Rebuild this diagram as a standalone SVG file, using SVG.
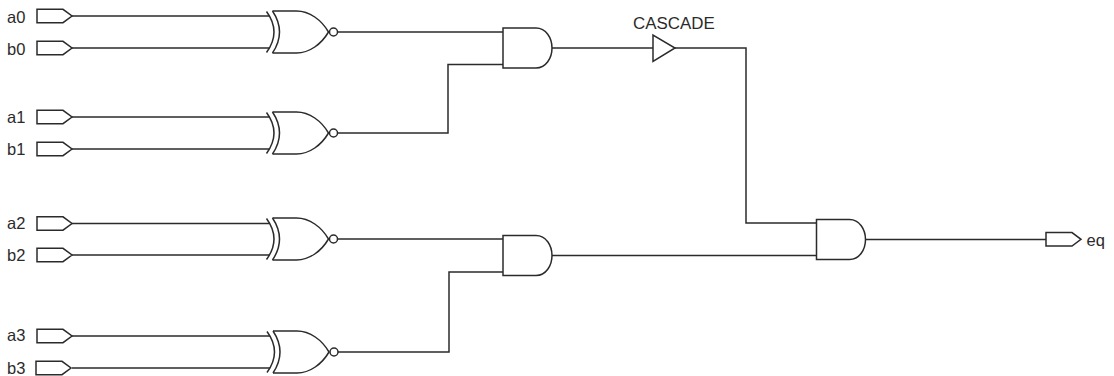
<svg xmlns="http://www.w3.org/2000/svg" xmlns:xlink="http://www.w3.org/1999/xlink" width="1114" height="376" viewBox="0 0 1114 376">
<style>
.s{fill:none;stroke:#2b2b2b;stroke-width:1.5}
.w{fill:none;stroke:#2b2b2b;stroke-width:1.5}
text{font-family:"Liberation Sans",Arial,sans-serif;font-size:16.500px;fill:#2b2b2b}
</style>
<defs>
<path id="port" class="s" d="M0,-6.700H26L35,0L26,6.700H0Z"/>
<g id="xnor" class="s">
<path d="M0,-20.500Q15,0 0,20.500"/>
<path d="M6,-21Q20,0 6,21"/>
<path d="M6,-21H30C43,-21 55,-12 62,0C55,12 43,21 30,21H6"/>
<circle cx="67" cy="0" r="4"/>
</g>
<path id="and" class="s" d="M0,-20H33C43,-20 49,-10 49,0C49,10 43,20 33,20H0Z"/>
</defs>
<g id="connectors">
<path class="w" d="M72,16H269.500M72,48H269.500M72,117H269.500M72,149H269.500M72,223.500H269.500M72,255H269.500M72,336H270M72,368H270"/>
<path class="w" d="M338,32H503M338,133H448V64.500H503M338,239H503M338,352H449V272H503"/>
<path class="w" d="M552,48H653M675,48H746V223H817M552,255.500H817M865,239.500H1046"/>
</g>
<g id="a0"><use xlink:href="#port" x="37" y="16"/><text x="7" y="23">a0</text></g>
<g id="b0"><use xlink:href="#port" x="37" y="48"/><text x="7" y="55">b0</text></g>
<g id="a1"><use xlink:href="#port" x="37" y="117"/><text x="7" y="123">a1</text></g>
<g id="b1"><use xlink:href="#port" x="37" y="149"/><text x="7" y="155">b1</text></g>
<g id="a2"><use xlink:href="#port" x="37" y="223.500"/><text x="7" y="229">a2</text></g>
<g id="b2"><use xlink:href="#port" x="37" y="255"/><text x="7" y="261">b2</text></g>
<g id="a3"><use xlink:href="#port" x="37" y="336"/><text x="7" y="341">a3</text></g>
<g id="b3"><use xlink:href="#port" x="36" y="368"/><text x="7" y="374">b3</text></g>
<g id="xnor0"><use xlink:href="#xnor" x="266.500" y="32"/></g>
<g id="xnor1"><use xlink:href="#xnor" x="266.500" y="133"/></g>
<g id="xnor2"><use xlink:href="#xnor" x="266.500" y="239"/></g>
<g id="xnor3"><use xlink:href="#xnor" x="267" y="352"/></g>
<g id="and0"><use xlink:href="#and" x="503" y="48"/></g>
<g id="and1"><use xlink:href="#and" x="503" y="255.500"/></g>
<g id="and2"><use xlink:href="#and" x="816.500" y="239.500"/></g>
<g id="cascade"><path class="s" d="M653,35V61.500L675,48Z"/><text x="633" y="29" style="font-size:16.900px">CASCADE</text></g>
<g id="eq"><use xlink:href="#port" x="1046" y="239.300"/><text x="1086.500" y="246">eq</text></g>
</svg>
